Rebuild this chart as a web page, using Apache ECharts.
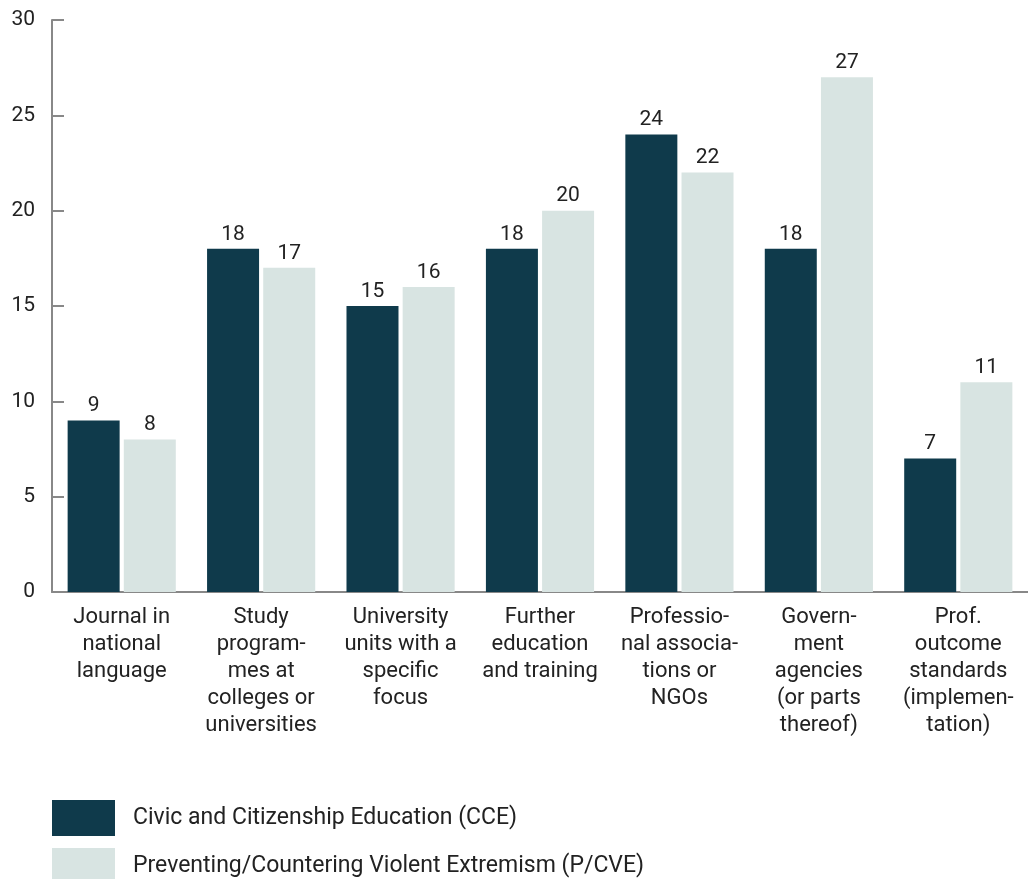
<!DOCTYPE html>
<html>
<head>
<meta charset="utf-8">
<script src="https://cdn.jsdelivr.net/npm/echarts@6/dist/echarts.min.js"></script>
<style>
  html, body { margin: 0; padding: 0; background: #fff; }
  #chart { width: 1028px; height: 879px; }
</style>
</head>
<body>
<div id="chart"></div>
<script>
var categories = [
  'Journal in\nnational\nlanguage',
  'Study\nprogram-\nmes at\ncolleges or\nuniversities',
  'University\nunits with a\nspecific\nfocus',
  'Further\neducation\nand training',
  'Professio-\nnal associa-\ntions or\nNGOs',
  'Govern-\nment\nagencies\n(or parts\nthereof)',
  'Prof.\noutcome\nstandards\n(implemen-\ntation)'
];
var seriesNames = ['Civic and Citizenship Education (CCE)', 'Preventing/Countering Violent Extremism (P/CVE)'];
var cceValues = [9, 18, 15, 18, 24, 18, 7];
var pcveValues = [8, 17, 16, 20, 22, 27, 11];
var yTicks = [0, 5, 10, 15, 20, 25, 30];

var chart = echarts.init(document.getElementById('chart'));
var fontFamily = 'Roboto, "Noto Sans", sans-serif';

// one legend per row, stacked
function legendRow(name, top) {
  return {
    orient: 'vertical',
    left: 52,
    top: top,
    padding: 0,
    itemWidth: 63,
    itemHeight: 36,
    icon: 'rect',
    textStyle: { fontSize: 23, color: '#222', fontFamily: fontFamily, padding: [0, 0, 0, 13] },
    data: [name]
  };
}

chart.setOption({
  animation: false,
  textStyle: { fontFamily: fontFamily },
  grid: {
    left: 52,
    top: 20,
    width: 980,
    height: 572
  },
  legend: [legendRow(seriesNames[0], 800), legendRow(seriesNames[1], 848)],
  xAxis: {
    type: 'category',
    data: categories,
    axisLine: { lineStyle: { color: '#888', width: 2 } },
    axisTick: { show: false },
    axisLabel: {
      interval: 0,
      color: '#222',
      fontSize: 22,
      lineHeight: 27,
      margin: 12,
      fontFamily: fontFamily
    }
  },
  yAxis: {
    type: 'value',
    min: yTicks[0],
    max: yTicks[yTicks.length - 1],
    interval: 5,
    axisLine: { show: true, lineStyle: { color: '#888', width: 2 } },
    axisTick: { show: true, inside: true, length: 12, lineStyle: { color: '#888', width: 2 } },
    splitLine: { show: false },
    axisLabel: { color: '#222', fontSize: 21, margin: 17, fontFamily: fontFamily }
  },
  series: [
    {
      name: seriesNames[0],
      type: 'bar',
      data: cceValues,
      barWidth: 52,
      barGap: '8%',
      itemStyle: { color: '#0f3a4b' },
      label: { show: true, position: 'top', distance: 4, color: '#222', fontSize: 21, fontFamily: fontFamily }
    },
    {
      name: seriesNames[1],
      type: 'bar',
      data: pcveValues,
      barWidth: 52,
      itemStyle: { color: '#d8e4e2' },
      label: { show: true, position: 'top', distance: 4, color: '#222', fontSize: 21, fontFamily: fontFamily }
    }
  ]
});
</script>
</body>
</html>
